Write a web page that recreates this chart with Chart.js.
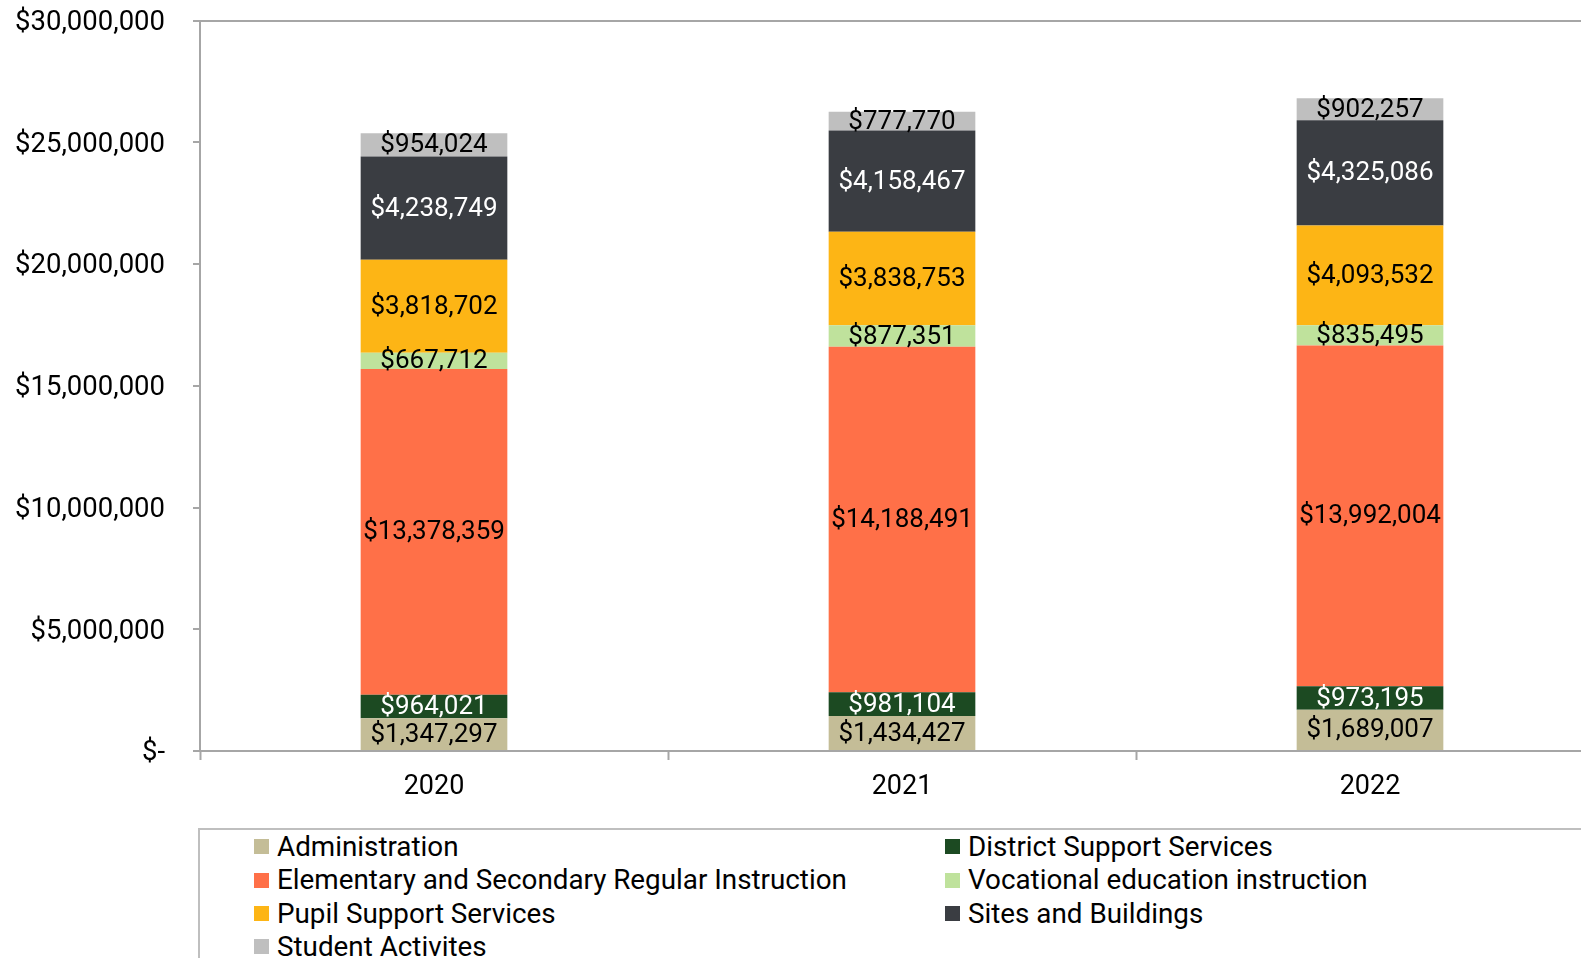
<!DOCTYPE html>
<html>
<head>
<meta charset="utf-8">
<script src="https://cdn.jsdelivr.net/npm/chart.js@4/dist/chart.umd.min.js"></script>
<style>
html,body{margin:0;padding:0;overflow:hidden;background:#fff;width:1581px;height:958px;}
#wrap{position:absolute;left:0;top:-24px;width:1612px;height:844px;}
#legend{position:absolute;left:198px;top:828px;width:1500px;height:200px;border:2px solid #BFBFBF;box-sizing:border-box;font-family:Roboto,sans-serif;font-size:27.8px;color:#000;}
.item{position:absolute;display:flex;align-items:center;white-space:nowrap;line-height:1;}
.sw{width:15px;height:15px;margin-right:8px;}
</style>
</head>
<body>
<div id="wrap"><canvas id="c"></canvas></div>
<div id="legend"></div>
<script>
const categories = ['2020', '2021', '2022'];
const seriesNames = ['Administration', 'District Support Services', 'Elementary and Secondary Regular Instruction', 'Vocational education instruction', 'Pupil Support Services', 'Sites and Buildings', 'Student Activites'];
const administration = [1347297, 1434427, 1689007];
const districtSupport = [964021, 981104, 973195];
const elementarySecondary = [13378359, 14188491, 13992004];
const vocational = [667712, 877351, 835495];
const pupilSupport = [3818702, 3838753, 4093532];
const sitesBuildings = [4238749, 4158467, 4325086];
const studentActivities = [954024, 777770, 902257];
const yTicks = [0, 5000000, 10000000, 15000000, 20000000, 25000000, 30000000];

const seriesValues = [administration, districtSupport, elementarySecondary, vocational, pupilSupport, sitesBuildings, studentActivities];
const colors = ['#C4BD97', '#1C4A22', '#FF7048', '#BFE29C', '#FDB515', '#3A3D42', '#BFBFBF'];
const labelColors = ['#000', '#fff', '#000', '#000', '#000', '#fff', '#000'];

const fmt = v => '$' + v.toLocaleString('en-US');

const labelPlugin = {
  id: 'segLabels',
  afterDatasetsDraw(chart) {
    const ctx = chart.ctx;
    ctx.save();
    ctx.font = '26px Roboto';
    ctx.textAlign = 'center';
    ctx.textBaseline = 'middle';
    chart.data.datasets.forEach((ds, i) => {
      const meta = chart.getDatasetMeta(i);
      meta.data.forEach((bar, j) => {
        const p = bar.getProps(['x', 'y', 'base'], true);
        ctx.fillStyle = labelColors[i];
        ctx.fillText(fmt(ds.data[j]), p.x, (p.y + p.base) / 2 + 1);
      });
    });
    ctx.restore();
  }
};

const axisColor = '#A6A6A6';

new Chart(document.getElementById('c'), {
  type: 'bar',
  data: {
    labels: categories,
    datasets: seriesNames.map((n, i) => ({
      label: n,
      data: seriesValues[i],
      backgroundColor: colors[i],
      borderWidth: 0,
      categoryPercentage: 1,
      barPercentage: 0.3134
    }))
  },
  options: {
    responsive: true,
    maintainAspectRatio: false,
    animation: false,
    layout: { padding: { top: 0, right: 8, left: 0, bottom: 0 } },
    plugins: { legend: { display: false }, tooltip: { enabled: false } },
    scales: {
      x: {
        stacked: true,
        border: { color: axisColor, width: 2 },
        grid: { drawOnChartArea: false, drawTicks: true, tickLength: 9, tickColor: axisColor, tickWidth: 2, offset: true },
        ticks: { color: '#000', font: { family: 'Roboto', size: 27 }, padding: 11 },
        afterFit(s) { s.height = 69; }
      },
      y: {
        stacked: true,
        min: 0,
        max: 30000000,
        afterBuildTicks(s) { s.ticks = yTicks.map(v => ({ value: v })); },
        border: { color: axisColor, width: 2 },
        grid: {
          color: c => (c.tick && c.tick.value === 30000000) ? axisColor : 'rgba(0,0,0,0)',
          lineWidth: 2,
          tickColor: axisColor,
          tickLength: 7,
          tickWidth: 2
        },
        ticks: {
          color: '#000',
          font: { family: 'Roboto', size: 27.5 },
          padding: 28,
          labelOffset: 2.5,
          callback: v => v === 0 ? '$-' : fmt(v)
        },
        afterFit(s) { s.width = 200; }
      }
    }
  },
  plugins: [labelPlugin]
});

// HTML legend, built from the same series arrays
const leg = document.getElementById('legend');
seriesNames.forEach((n, i) => {
  const col = i % 2, row = Math.floor(i / 2);
  const d = document.createElement('div');
  d.className = 'item';
  d.style.left = (col === 0 ? 54 : 745) + 'px';
  d.style.top = (3 + row * 33.3) + 'px';
  const sw = document.createElement('span');
  sw.className = 'sw';
  sw.style.background = colors[i];
  const t = document.createElement('span');
  t.textContent = n;
  d.appendChild(sw); d.appendChild(t);
  leg.appendChild(d);
});
</script>
</body>
</html>
